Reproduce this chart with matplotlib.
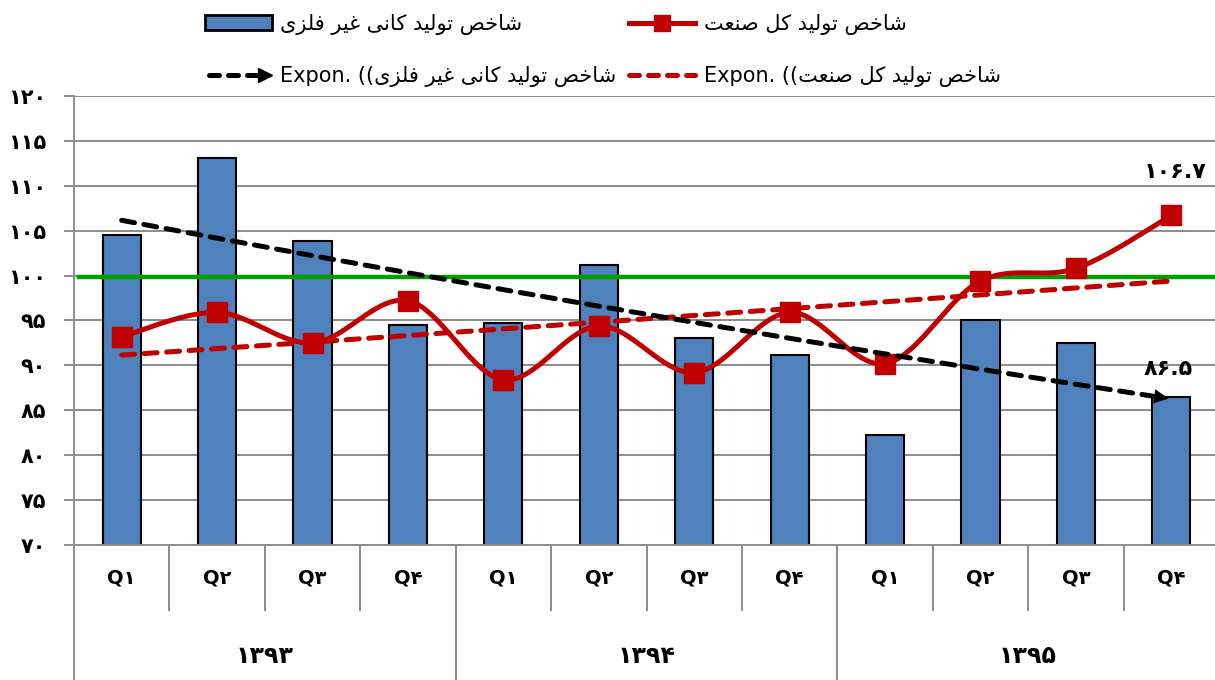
import numpy as np
import matplotlib
matplotlib.use('Agg')
import matplotlib.pyplot as plt
import matplotlib.transforms as mtrans
from matplotlib.lines import Line2D
from matplotlib.patches import Patch
from matplotlib.legend_handler import HandlerBase

# ---------------- data ----------------
quarters = ['Q۱', 'Q۲', 'Q۳', 'Q۴'] * 3
years = ['۱۳۹۳', '۱۳۹۴', '۱۳۹۵']
mineral = [104.5, 113.1, 103.8, 94.5, 94.7, 101.2, 93.0, 91.2, 82.2, 95.1, 92.5, 86.5]
industry = [93.2, 95.9, 92.5, 97.2, 88.4, 94.4, 89.2, 95.9, 90.2, 99.4, 100.8, 106.7]
ref_level = 99.8
yticks = [70, 75, 80, 85, 90, 95, 100, 105, 110, 115, 120]
label_mineral = 'شاخص تولید کانی غیر فلزی'
label_industry = 'شاخص تولید کل صنعت'
last_labels = ['۱۰۶.۷', '۸۶.۵']

plt.rcParams['font.family'] = ['DejaVu Sans']

# --------- minimal Persian shaping (matplotlib has no shaping) ---------
FORMS = {
    'ا': ('\uFE8D', '\uFE8E', None, None),
    'ش': ('\uFEB5', '\uFEB6', '\uFEB7', '\uFEB8'),
    'خ': ('\uFEA5', '\uFEA6', '\uFEA7', '\uFEA8'),
    'ص': ('\uFEB9', '\uFEBA', '\uFEBB', '\uFEBC'),
    'ت': ('\uFE95', '\uFE96', '\uFE97', '\uFE98'),
    'و': ('\uFEED', '\uFEEE', None, None),
    'ل': ('\uFEDD', '\uFEDE', '\uFEDF', '\uFEE0'),
    'ی': ('\uFBFC', '\uFBFD', '\uFBFE', '\uFBFF'),
    'د': ('\uFEA9', '\uFEAA', None, None),
    'ک': ('\uFB8E', '\uFB8F', '\uFB90', '\uFB91'),
    'ن': ('\uFEE5', '\uFEE6', '\uFEE7', '\uFEE8'),
    'غ': ('\uFECD', '\uFECE', '\uFECF', '\uFED0'),
    'ر': ('\uFEAD', '\uFEAE', None, None),
    'ف': ('\uFED1', '\uFED2', '\uFED3', '\uFED4'),
    'ز': ('\uFEAF', '\uFEB0', None, None),
    'ع': ('\uFEC9', '\uFECA', '\uFECB', '\uFECC'),
}


def shape_rtl(s):
    out = []
    n = len(s)
    for i, c in enumerate(s):
        if c not in FORMS:
            out.append(c)
            continue
        dual = FORMS[c][2] is not None
        jp = i > 0 and s[i - 1] in FORMS and FORMS[s[i - 1]][2] is not None
        jn = dual and i < n - 1 and s[i + 1] in FORMS
        if jp and jn:
            f = FORMS[c][3]
        elif jp:
            f = FORMS[c][1]
        elif jn:
            f = FORMS[c][2]
        else:
            f = FORMS[c][0]
        out.append(f)
    return ''.join(out)[::-1]


def fa(s):
    return str(s).translate(str.maketrans('0123456789', '۰۱۲۳۴۵۶۷۸۹'))


def smooth(xs, ys, n=40):
    p = np.column_stack([xs, ys]).astype(float)
    p = np.vstack([p[0], p, p[-1]])
    res = []
    t = np.linspace(0, 1, n)[:, None]
    for i in range(1, len(p) - 2):
        p0, p1, p2, p3 = p[i - 1], p[i], p[i + 1], p[i + 2]
        c1 = p1 + (p2 - p0) / 6.0
        c2 = p2 - (p3 - p1) / 6.0
        seg = ((1 - t) ** 3) * p1 + 3 * ((1 - t) ** 2) * t * c1 + 3 * (1 - t) * t ** 2 * c2 + t ** 3 * p2
        res.append(seg)
    r = np.vstack(res)
    return r[:, 0], r[:, 1]


# ---------------- figure ----------------
W, H = 1215, 680
fig = plt.figure(figsize=(W / 100, H / 100), dpi=100)
ax = fig.add_axes([74 / W, 135 / H, 1145 / W, 449 / H])

x = np.arange(len(mineral))
GRID = '#8c8c8c'
BLUE = '#4F81BD'
RED = '#C00000'

ax.bar(x, mineral, width=0.4, color=BLUE, edgecolor='black', linewidth=1.5, zorder=2)
ax.plot([-0.45, 11.7], [ref_level, ref_level], color='#00A000', lw=3.2, zorder=3, clip_on=False)

# exponential trend lines (Excel style fit on x = 1..n)
xf = np.arange(1, len(mineral) + 1)
bm, am = np.polyfit(xf, np.log(mineral), 1)
bi, ai = np.polyfit(xf, np.log(industry), 1)
trend_m = np.exp(am + bm * xf)
trend_i = np.exp(ai + bi * xf)

DASH = (2.6, 1.9)
ax.plot(x, trend_i, color=RED, lw=3.6, dashes=DASH, dash_capstyle='round', zorder=4)

sx, sy = smooth(x, industry)
ax.plot(sx, sy, color=RED, lw=3.6, zorder=5, solid_capstyle='round')
ax.plot(x, industry, 's', color=RED, ms=14, zorder=6)

ax.plot(x[:-1].tolist() + [x[-1] - 0.12], list(trend_m[:-1]) + [np.exp(am + bm * (xf[-1] - 0.12))],
        color='black', lw=3.6, dashes=DASH, dash_capstyle='round', zorder=7)
xa0 = xf[-1] - 0.25
ax.annotate('', xy=(x[-1], trend_m[-1]), xytext=(x[-1] - 0.25, np.exp(am + bm * xa0)),
            arrowprops=dict(arrowstyle='-|>', color='black', lw=0, mutation_scale=26), zorder=7)

ax.set_xlim(-0.5, 11.5)
ax.set_ylim(70, 120)
ax.set_yticks(yticks)
ax.set_yticklabels([fa(v) for v in yticks], fontweight='bold', fontsize=15)
ax.set_xticks([])
ax.grid(axis='y', color=GRID, lw=1.4, zorder=0)
ax.set_axisbelow(True)
for s in ['top', 'right']:
    ax.spines[s].set_visible(False)
for s in ['left', 'bottom']:
    ax.spines[s].set_color(GRID)
    ax.spines[s].set_linewidth(1.4)
ax.tick_params(axis='y', length=7, width=1.4, color=GRID, pad=13)

# two-level category axis
bt = mtrans.blended_transform_factory(ax.transData, ax.transAxes)
full = -135 / 449
short = -65 / 449
ax.plot([0, 0], [full, 0], transform=ax.transAxes, color=GRID, lw=1.4, clip_on=False)
for i in range(len(x)):
    xb = i + 0.5
    yb = full if (i + 1) % 4 == 0 else short
    ax.plot([xb, xb], [yb, 0], transform=bt, color=GRID, lw=1.4, clip_on=False)
    ax.text(i, -33 / 449, quarters[i], transform=bt, ha='center', va='center',
            fontsize=14, fontweight='bold')
for k, yl in enumerate(years):
    ax.text(4 * k + 1.5, -111 / 449, yl, transform=bt, ha='center', va='center',
            fontsize=17, fontweight='bold')

# value labels for last points
ax.annotate(last_labels[0], xy=(x[-1], industry[-1]), xytext=(3, 31), textcoords='offset points',
            ha='center', va='center', fontsize=16, fontweight='bold')
ax.annotate(last_labels[1], xy=(x[-1], mineral[-1]), xytext=(-2, 20), textcoords='offset points',
            ha='center', va='center', fontsize=16, fontweight='bold')


# ---------------- legend ----------------
class ArrowHandler(HandlerBase):
    def create_artists(self, legend, orig, xd, yd, w, h, fontsize, trans):
        y = h / 2 - yd
        line = Line2D([-xd + 3, -xd + w - 10], [y, y], color='black', lw=3.6,
                      dashes=(2.0, 1.8), dash_capstyle='round', transform=trans)
        head = Line2D([-xd + w - 5], [y], marker='>', ms=10, color='black', lw=0, transform=trans)
        return [line, head]


h_bar = Patch(facecolor=BLUE, edgecolor='black', linewidth=2)
h_line = Line2D([], [], color=RED, lw=3.6, marker='s', ms=12)
h_tm = Line2D([], [], color='black', lw=3.6)
h_ti = Line2D([], [], color=RED, lw=3.6, dashes=(2.0, 1.8), dash_capstyle='round')

labels = [shape_rtl(label_mineral),
          'Expon. ((' + shape_rtl(label_mineral),
          shape_rtl(label_industry),
          'Expon. ((' + shape_rtl(label_industry)]
fig.legend(handles=[h_bar, h_tm, h_line, h_ti], labels=labels, ncol=2, loc='upper left',
           bbox_to_anchor=(205 / W, 1 - 14 / H), frameon=False, fontsize=15,
           handlelength=3.2, handletextpad=0.4, columnspacing=0.6, labelspacing=1.5,
           borderpad=0, borderaxespad=0, handler_map={h_tm: ArrowHandler()})

fig.savefig('out.png', dpi=100)
